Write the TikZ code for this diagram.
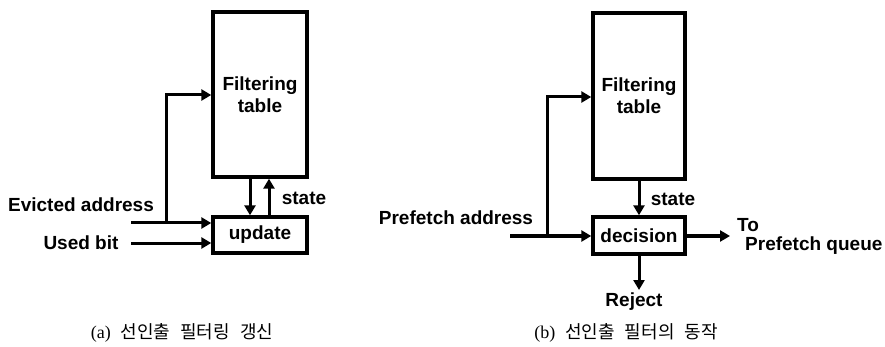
\documentclass[tikz,border=0pt]{standalone}
\usepackage{fontspec}
\setmainfont{Liberation Sans}
\newfontfamily\krfont{Noto Sans CJK KR}
\newfontfamily\capserif{Liberation Serif}
\usetikzlibrary{arrows.meta}
\tikzset{
  blk/.style={draw, line width=3.4pt, inner sep=0pt, align=center, font=\fontsize{19}{22}\selectfont\bfseries},
  lbl/.style={inner sep=0pt, font=\fontsize{19}{22}\selectfont\bfseries},
  capt/.style={inner sep=0pt, font=\fontsize{18}{20}\selectfont},
  arr/.style={line width=3pt, -{Triangle[length=10pt,width=11pt]}},
  ln/.style={line width=3pt}
}
\begin{document}
\begin{tikzpicture}[x=1pt,y=-1pt]
\useasboundingbox (0,0) rectangle (885,347);
% ---------- (a) ----------
\node[blk, minimum width=94pt, minimum height=165pt] (ftA) at (260,94.5) {Filtering\\table};
\node[blk, minimum width=94pt, minimum height=36pt] (upA) at (260,235) {update};
\draw[arr] ([xshift=-10pt]ftA.south) -- ([xshift=-10pt]upA.north);
\draw[arr] ([xshift=9pt]upA.north) -- ([xshift=9pt]ftA.south);
\node[lbl] (stA) at (304,198) {state};
\node[lbl] (evA) at (81,205) {Evicted address};
\node[lbl] (ubA) at (81,243) {Used bit};
\coordinate (inA) at (131,223);
\coordinate (brA) at (166,223);
\coordinate (tA) at (166,95);
\coordinate (inU) at (131,243);
\draw[arr] (inA) -- (inA -| upA.west);
\draw[arr] (brA) -- (tA) -- (tA -| ftA.west);
\draw[arr] (inU) -- (inU -| upA.west);
\node[capt] (capA) at (182,333) {\capserif(a)\hspace{10pt}\krfont 선인출\hspace{10pt}필터링\hspace{10pt}갱신};
% ---------- (b) ----------
\node[blk, minimum width=92pt, minimum height=166pt] (ftB) at (639,96) {Filtering\\table};
\node[blk, minimum width=92pt, minimum height=37pt] (decB) at (639,235.5) {decision};
\draw[arr] (ftB.south) -- (decB.north);
\node[lbl] (stB) at (673,199) {state};
\node[lbl] (paB) at (456,218) {Prefetch address};
\coordinate (inB) at (510,236);
\coordinate (brB) at (547,236);
\coordinate (tB) at (547,97);
\draw[arr] (inB) -- (inB -| decB.west);
\draw[arr] (brB) -- (tB) -- (tB -| ftB.west);
\coordinate (outB) at (730,236);
\draw[arr] (decB.east |- outB) -- (outB);
\node[lbl, anchor=west] (toB) at (737,225) {To};
\node[lbl, anchor=west] (pqB) at (745,246) {Prefetch queue};
\coordinate (rjB) at (639,290);
\draw[arr] (decB.south) -- (rjB);
\node[lbl] (rejB) at (634,302) {Reject};
\node[capt] (capB) at (626,333) {\capserif(b)\hspace{10pt}\krfont 선인출\hspace{10pt}필터의\hspace{10pt}동작};
\end{tikzpicture}
\end{document}
